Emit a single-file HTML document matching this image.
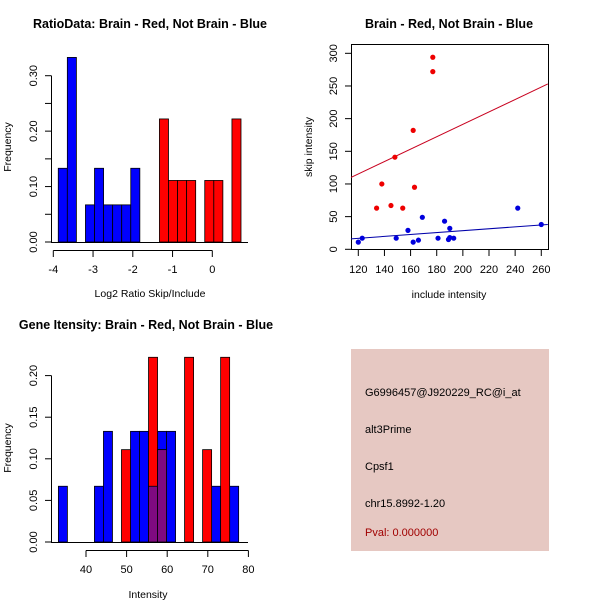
<!DOCTYPE html>
<html><head><meta charset="utf-8"><style>
body{margin:0;background:#fff}
svg{display:block;font-family:"Liberation Sans",sans-serif}
</style></head><body>
<svg id="s" width="600" height="600" viewBox="0 0 600 600" xmlns="http://www.w3.org/2000/svg">
<rect x="0" y="0" width="600" height="600" fill="#fff"/>
<text x="150" y="28" text-anchor="middle" font-size="12.5" font-weight="bold">RatioData: Brain - Red, Not Brain - Blue</text>
<text x="449" y="28" text-anchor="middle" font-size="12.5" font-weight="bold">Brain - Red, Not Brain - Blue</text>
<text x="146" y="329" text-anchor="middle" font-size="12.5" font-weight="bold">Gene Itensity: Brain - Red, Not Brain - Blue</text>
<text x="150" y="297" text-anchor="middle" font-size="10.5">Log2 Ratio Skip/Include</text>
<text x="449" y="298" text-anchor="middle" font-size="10.5">include intensity</text>
<text x="148" y="598" text-anchor="middle" font-size="10.5">Intensity</text>
<text transform="translate(11,147) rotate(-90)" text-anchor="middle" font-size="10.5">Frequency</text>
<text transform="translate(312,147) rotate(-90)" text-anchor="middle" font-size="10.5">skip intensity</text>
<text transform="translate(11,448) rotate(-90)" text-anchor="middle" font-size="10.5">Frequency</text>
<g id="g1"></g>
<g id="g2"></g>
<g id="g3"></g>
<g>
<rect x="351" y="349" width="198" height="202" fill="#e6c8c2"/>
<text x="365" y="396" font-size="11">G6996457@J920229_RC@i_at</text>
<text x="365" y="433" font-size="11">alt3Prime</text>
<text x="365" y="470" font-size="11">Cpsf1</text>
<text x="365" y="507" font-size="11">chr15.8992-1.20</text>
<text x="365" y="536" font-size="11" fill="#a00000">Pval: 0.000000</text>
</g>
</svg>
<script>
// Ratio histogram data
const ratioBinWidth = 0.228;
const ratioBlueStart = -3.875;
const ratioBlueFreq = [0.133,0.333,0,0.067,0.133,0.067,0.067,0.067,0.133];
const ratioRedStart = -1.33;
const ratioRedFreq = [0.222,0.111,0.111,0.111,0,0.111,0.111,0,0.222];
const ratioXTicks = [-4,-3,-2,-1,0];
const ratioYTicks = [0,0.05,0.10,0.15,0.20,0.25,0.30];
const ratioYLabels = ["0.00","","0.10","","0.20","","0.30"];
// Scatter data
const redX = [134,138,145,148,154,162,163,177,177];
const redY = [63,100,67,141,63,182,95,272,294];
const blueX = [120,123,149,158,162,166,169,181,186,189,190,190,193,242,260];
const blueY = [11,17,17,29,11,14,49,17,43,15,32,18,17,63,38];
const redFit = [1.3,0.95];
const blueFit = [-0.7,0.146];
const scXTicks = [120,140,160,180,200,220,240,260];
const scYTicks = [0,50,100,150,200,250,300];
// Intensity histogram data
const intBinWidth = 2.22;
const intStart = 33.2;
const intBlueFreq = [0.067,0,0,0,0.067,0.133,0,0,0.133,0.133,0.067,0.133,0.133,0,0,0,0,0.067,0,0.067];
const intRedFreq = [0,0,0,0,0,0,0,0.111,0,0,0.222,0.111,0,0,0.222,0,0.111,0,0.222,0];
const intXTicks = [40,50,60,70,80];
const intYTicks = [0,0.05,0.10,0.15,0.20];
const intYLabels = ["0.00","0.05","0.10","0.15","0.20"];

const NS="http://www.w3.org/2000/svg";
function mk(p,tag,a){const e=document.createElementNS(NS,tag);for(const k in a)e.setAttribute(k,a[k]);p.appendChild(e);return e;}

// Panel 1
(function(){
const g=document.getElementById('g1');
const sx=v=>53.3+(v+4)*39.75, sy=v=>242-v*554.3;
ratioBlueFreq.forEach((f,i)=>{if(!f)return;const x0=ratioBlueStart+i*ratioBinWidth;
const r=mk(g,'rect',{x:sx(x0),y:sy(f),width:sx(x0+ratioBinWidth)-sx(x0),height:sy(0)-sy(f),fill:'#0000ff',stroke:'#000','stroke-width':0.8});

});
ratioRedFreq.forEach((f,i)=>{if(!f)return;const x0=ratioRedStart+i*ratioBinWidth;
const r=mk(g,'rect',{x:sx(x0),y:sy(f),width:sx(x0+ratioBinWidth)-sx(x0),height:sy(0)-sy(f),fill:'#ff0000',stroke:'#000','stroke-width':0.8});

});
mk(g,'line',{x1:51,x2:248,y1:242.5,y2:242.5,stroke:'#000'});
mk(g,'line',{x1:51.5,x2:51.5,y1:sy(0),y2:sy(0.3),stroke:'#000'});
ratioYTicks.forEach((v,i)=>{mk(g,'line',{x1:45,x2:51.5,y1:sy(v),y2:sy(v),stroke:'#000'});
if(ratioYLabels[i]){const t=mk(g,'text',{transform:`translate(37,${sy(v)}) rotate(-90)`,'text-anchor':'middle','font-size':11});t.textContent=ratioYLabels[i];

}});
mk(g,'line',{x1:sx(-4),x2:sx(0),y1:250.5,y2:250.5,stroke:'#000'});
ratioXTicks.forEach(v=>{mk(g,'line',{x1:sx(v),x2:sx(v),y1:250.5,y2:257,stroke:'#000'});
const t=mk(g,'text',{x:sx(v),y:273,'text-anchor':'middle','font-size':11});t.textContent=v;

});
})();

// Panel 2
(function(){
const g=document.getElementById('g2');
const sx=v=>358.3+(v-120)*1.307, sy=v=>249.3-v*0.6533;
mk(g,'rect',{x:351.5,y:44.5,width:197,height:205,fill:'none',stroke:'#000'});
const xa=114.4,xb=265;
const rl=mk(g,'line',{x1:sx(xa),x2:sx(xb),y1:sy(redFit[0]+redFit[1]*xa),y2:sy(redFit[0]+redFit[1]*xb),stroke:'#c8001e','stroke-width':1});


const bl=mk(g,'line',{x1:sx(xa),x2:sx(xb),y1:sy(blueFit[0]+blueFit[1]*xa),y2:sy(blueFit[0]+blueFit[1]*xb),stroke:'#0000aa','stroke-width':1});


redX.forEach((x,i)=>{const c=mk(g,'circle',{cx:sx(x),cy:sy(redY[i]),r:2.6,fill:'#ee0000'});

});
blueX.forEach((x,i)=>{const c=mk(g,'circle',{cx:sx(x),cy:sy(blueY[i]),r:2.6,fill:'#0000dd'});

});
scYTicks.forEach(v=>{mk(g,'line',{x1:345,x2:351.5,y1:sy(v),y2:sy(v),stroke:'#000'});
const t=mk(g,'text',{transform:`translate(337,${sy(v)}) rotate(-90)`,'text-anchor':'middle','font-size':11});t.textContent=v;

});
scXTicks.forEach(v=>{mk(g,'line',{x1:sx(v),x2:sx(v),y1:249.5,y2:256,stroke:'#000'});
const t=mk(g,'text',{x:sx(v),y:273,'text-anchor':'middle','font-size':11});t.textContent=v;

});
})();

// Panel 3
(function(){
const g=document.getElementById('g3');
const sx=v=>86+(v-40)*4.06, sy=v=>542-v*832;
const bar=(i,f,fill,name)=>{const x0=intStart+i*intBinWidth;
const r=mk(g,'rect',{x:sx(x0),y:sy(f),width:sx(x0+intBinWidth)-sx(x0),height:sy(0)-sy(f),fill:fill,stroke:'#000','stroke-width':0.8});

};
intBlueFreq.forEach((f,i)=>{if(f)bar(i,f,'#0000ff','intensity-blue-bar');});
intRedFreq.forEach((f,i)=>{if(f)bar(i,f,'#ff0000','intensity-red-bar');});
intRedFreq.forEach((f,i)=>{const m=Math.min(f,intBlueFreq[i]);if(m)bar(i,m,'#7f0a80','intensity-overlap-bar');});
mk(g,'line',{x1:51,x2:248,y1:542.5,y2:542.5,stroke:'#000'});
mk(g,'line',{x1:51.5,x2:51.5,y1:sy(0),y2:sy(0.2),stroke:'#000'});
intYTicks.forEach((v,i)=>{mk(g,'line',{x1:45,x2:51.5,y1:sy(v),y2:sy(v),stroke:'#000'});
const t=mk(g,'text',{transform:`translate(37,${sy(v)}) rotate(-90)`,'text-anchor':'middle','font-size':11});t.textContent=intYLabels[i];

});
mk(g,'line',{x1:sx(40),x2:sx(80),y1:550.5,y2:550.5,stroke:'#000'});
intXTicks.forEach(v=>{mk(g,'line',{x1:sx(v),x2:sx(v),y1:550.5,y2:557,stroke:'#000'});
const t=mk(g,'text',{x:sx(v),y:573,'text-anchor':'middle','font-size':11});t.textContent=v;

});
})();
</script>
</body></html>
